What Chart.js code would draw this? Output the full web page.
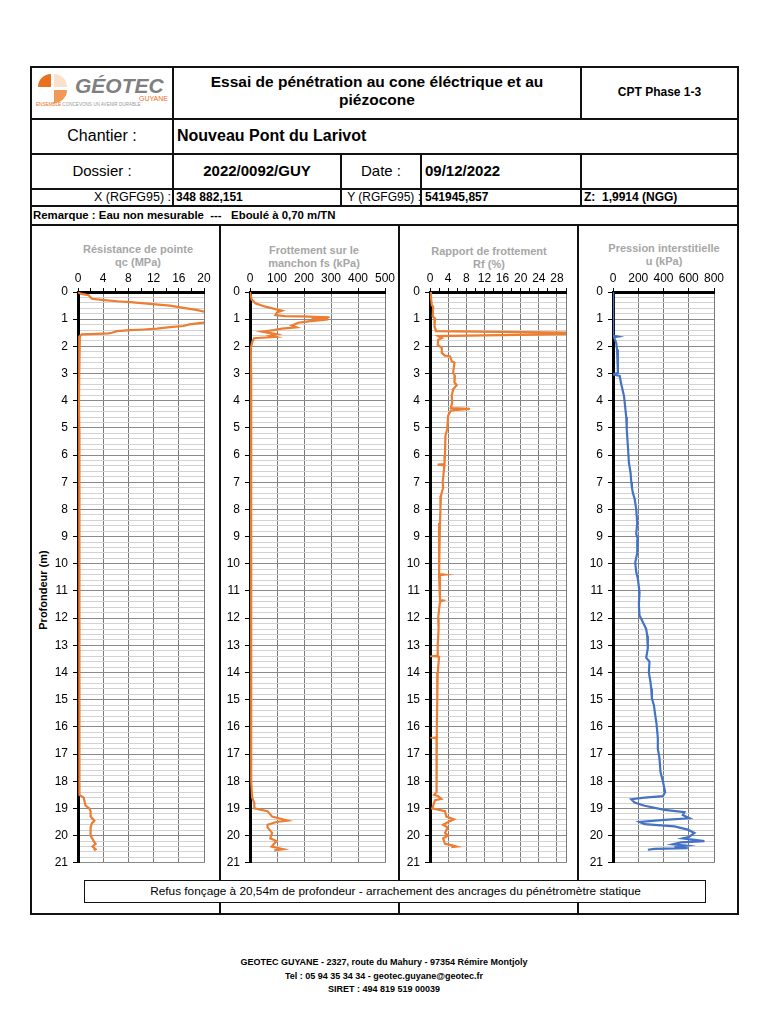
<!DOCTYPE html>
<html><head><meta charset="utf-8">
<script src="https://cdn.jsdelivr.net/npm/chart.js@4"></script>
<style>
body{margin:0;background:#fff;width:768px;height:1024px;position:relative;font-family:"Liberation Sans",Arial,sans-serif;overflow:hidden}
.h{position:absolute;height:2px;background:#111}
.v{position:absolute;width:2px;background:#111}
.t{position:absolute;white-space:nowrap;color:#000}
.c{text-align:center}
.ct{position:absolute;white-space:nowrap;text-align:center;color:#a6a6a6;font-weight:bold;font-size:11px;line-height:13px}
canvas{position:absolute}
</style></head><body>

<!-- frame lines -->
<div class="h" style="left:30px;top:66px;width:709px"></div>
<div class="h" style="left:30px;top:118px;width:709px"></div>
<div class="h" style="left:30px;top:153px;width:709px"></div>
<div class="h" style="left:30px;top:188px;width:709px"></div>
<div class="h" style="left:30px;top:205px;width:709px"></div>
<div class="h" style="left:30px;top:224px;width:709px"></div>
<div class="h" style="left:30px;top:913px;width:709px"></div>
<div class="v" style="left:30px;top:66px;height:849px"></div>
<div class="v" style="left:737px;top:66px;height:849px"></div>
<div class="v" style="left:172px;top:66px;height:140px"></div>
<div class="v" style="left:580px;top:66px;height:53px"></div>
<div class="v" style="left:580px;top:153px;height:53px"></div>
<div class="v" style="left:340px;top:153px;height:53px"></div>
<div class="v" style="left:420px;top:153px;height:53px"></div>
<div class="v" style="left:219px;top:224px;height:690px"></div>
<div class="v" style="left:398px;top:224px;height:690px"></div>
<div class="v" style="left:577px;top:224px;height:690px"></div>

<!-- logo -->
<svg style="position:absolute;left:36px;top:71px" width="134" height="36" viewBox="0 0 134 36">
  <path d="M15,3 A13,13 0 0 0 2,16 L15,16 Z" fill="#e8701e"/>
  <path d="M18,19 L31,19 A13,13 0 0 1 18,32 Z" fill="#f09a55"/>
  <path d="M18,3 A13,13 0 0 1 31,16 L18,16 Z" fill="#fbe1cc"/>
  <text x="39" y="22" font-family="Liberation Sans, Arial" font-weight="bold" font-style="italic" font-size="21" fill="#7f7f7f">GÉOTEC</text>
  <text x="132" y="30" text-anchor="end" font-family="Liberation Sans, Arial" font-size="7" fill="#e8701e">GUYANE</text>
  <text x="0" y="35" font-family="Liberation Sans, Arial" font-size="4.6" fill="#999"><tspan fill="#e8701e">ENSEMBLE</tspan> CONCEVONS UN AVENIR DURABLE</text>
</svg>

<!-- header texts -->
<div class="t c" style="left:174px;width:406px;top:73px;font-weight:bold;font-size:15.5px;line-height:18px">Essai de pénétration au cone éléctrique et au<br>piézocone</div>
<div class="t c" style="left:582px;width:155px;top:84px;font-weight:bold;font-size:12px;line-height:16px">CPT Phase 1-3</div>
<div class="t c" style="left:32px;width:140px;top:126px;font-size:16px;line-height:20px">Chantier :</div>
<div class="t" style="left:177px;top:126px;font-weight:bold;font-size:16px;line-height:20px">Nouveau Pont du Larivot</div>
<div class="t c" style="left:32px;width:140px;top:162px;font-size:15px;line-height:18px">Dossier :</div>
<div class="t c" style="left:174px;width:166px;top:162px;font-weight:bold;font-size:15px;line-height:18px">2022/0092/GUY</div>
<div class="t c" style="left:342px;width:78px;top:162px;font-size:15px;line-height:18px">Date :</div>
<div class="t" style="left:425px;top:162px;font-weight:bold;font-size:15px;line-height:18px">09/12/2022</div>
<div class="t" style="right:597px;top:190px;font-size:12.5px;line-height:15px">X (RGFG95) :</div>
<div class="t" style="left:176px;top:190px;font-size:12px;line-height:15px;font-weight:bold">348 882,151</div>
<div class="t" style="right:347px;top:190px;font-size:12px;line-height:15px">Y (RGFG95) :</div>
<div class="t" style="left:425px;top:190px;font-size:12px;line-height:15px;font-weight:bold">541945,857</div>
<div class="t" style="left:584px;top:190px;font-size:12px;line-height:15px;font-weight:bold">Z:&nbsp; 1,9914 (NGG)</div>
<div class="t" style="left:33px;top:207px;font-size:11.4px;line-height:16px;font-weight:bold">Remarque : Eau non mesurable &nbsp;--- &nbsp; Eboulé à 0,70 m/TN</div>

<!-- chart titles -->
<div class="ct" style="left:60px;width:156px;top:243px">Résistance de pointe<br>qc (MPa)</div>
<div class="ct" style="left:236px;width:156px;top:244px">Frottement sur le<br>manchon fs (kPa)</div>
<div class="ct" style="left:411px;width:156px;top:245px">Rapport de frottement<br>Rf (%)</div>
<div class="ct" style="left:586px;width:156px;top:242px">Pression interstitielle<br>u (kPa)</div>
<div class="t" style="left:-17px;top:583px;width:120px;text-align:center;font-weight:bold;font-size:11px;line-height:14px;transform:rotate(-90deg)">Profondeur (m)</div>

<canvas id="c1"></canvas>
<canvas id="c2"></canvas>
<canvas id="c3"></canvas>
<canvas id="c4"></canvas>

<!-- bottom note -->
<div style="position:absolute;left:84px;top:880px;width:620px;height:21px;border:1.5px solid #111;background:#fff;z-index:5"></div>
<div class="t c" style="left:84px;width:623px;top:884px;font-size:11.8px;line-height:15px;z-index:6">Refus fonçage à 20,54m de profondeur - arrachement des ancrages du pénétromètre statique</div>

<!-- footer -->
<div class="t c" style="left:184px;width:400px;top:956px;font-size:9px;line-height:13.5px;font-weight:bold">GEOTEC GUYANE - 2327, route du Mahury - 97354 Rémire Montjoly<br>Tel : 05 94 35 34 34 - geotec.guyane@geotec.fr<br>SIRET : 494 819 519 00039</div>

<script>
// ---- data: depth (m) and measured values ----
const qcDepth = [0,0.06,0.12,0.25,0.29,0.34,0.37,0.44,0.5,0.6,0.66,0.72,0.8,0.95,1.05,1.13,1.19,1.25,1.29,1.35,1.38,1.4,1.44,1.5,1.52,1.54,1.56,1.62,2.0,3,4,5,6,7,8,9,10,11,12,13,14,15,16,17,18,18.5,18.6,18.7,18.9,19.0,19.1,19.3,19.45,19.55,19.7,20.0,20.2,20.3,20.4,20.5,20.54];
const qcValues = [0,0.4,1.7,2.2,3.8,6.2,8.3,11.4,14.6,17.2,18.8,20,24,26,23,20,17.7,16.7,14.6,12.5,10.4,8.3,6.2,5.4,4.8,3.0,0.6,0.3,0.2,0.2,0.15,0.2,0.25,0.2,0.2,0.25,0.2,0.2,0.25,0.2,0.2,0.25,0.2,0.25,0.25,0.3,0.9,1.0,1.2,1.8,2.0,2.0,2.6,2.2,2.0,2.0,2.5,2.8,2.3,2.8,2.5];

const fsDepth = [0,0.27,0.42,0.54,0.63,0.69,0.75,0.85,0.89,0.9,0.93,0.99,1.01,1.08,1.13,1.23,1.3,1.35,1.4,1.46,1.56,1.61,1.65,1.7,1.82,2.06,3,4,5,6,7,8,9,10,11,12,13,14,15,16,17,18,18.6,18.8,19.0,19.1,19.3,19.45,19.5,19.6,19.7,19.9,20.1,20.2,20.4,20.5,20.54];
const fsValues = [0,6,21,57,94,118,100,94,130,191,295,228,289,216,179,155,173,118,88,45,100,76,94,15,9,3,4,4,5,4,4,5,4,4,5,4,4,5,4,4,5,5,8,16,16,65,82,139,98,65,65,82,75,98,80,123,90];

const rfDepth = [0,0.18,0.48,0.55,0.9,0.97,1.27,1.39,1.44,1.5,1.55,1.62,1.7,1.76,1.94,2.06,2.24,2.34,2.36,2.55,2.6,2.97,3.09,3.33,3.43,3.58,3.82,4.06,4.27,4.3,4.36,4.55,5.03,5.3,6.0,6.33,6.35,6.38,6.5,7.0,7.2,7.5,8.0,8.5,9.0,9.5,10.0,10.38,10.4,10.42,11.0,11.33,11.35,11.4,12.0,12.4,13.0,13.38,13.4,13.42,14,15,16,16.38,16.4,16.42,17,18,18.4,18.5,18.55,18.65,18.7,18.9,19.0,19.1,19.3,19.4,19.5,19.6,19.7,19.9,20.0,20.1,20.3,20.35,20.4,20.42];
const rfValues = [0,0.2,0.4,0.7,0.6,1.1,1.0,1.25,1.3,31,31,1.8,2.6,1.8,1.7,2.6,2.6,3.3,4.4,4.8,5.4,5.1,5.5,5.4,5.9,5.1,4.8,4.9,4.6,8.8,4.6,4.0,3.8,3.4,3.3,3.2,1.7,3.2,3.1,2.8,2.9,2.4,2.3,2.2,2.0,2.0,2.0,2.0,3.1,2.0,2.2,2.2,2.9,2.2,1.8,1.9,1.7,1.7,0.7,2.0,1.7,1.6,1.5,1.5,0.8,1.5,1.45,1.45,1.45,0.9,1.8,2.5,1.1,0.7,0.5,3.3,3.6,5.3,4.0,2.9,3.9,3.3,4.0,2.9,3.3,4.7,5.8,4.7];

const uDepth = [0,1.4,1.6,1.64,1.66,1.88,2.12,2.97,3.03,3.09,3.4,3.82,4.6,4.9,5.06,5.67,6.28,6.65,7.0,7.2,7.4,7.6,8.0,8.5,8.9,9.1,9.6,9.95,10.3,10.55,11.05,11.5,11.9,12.15,12.4,12.65,13.1,13.45,13.6,14.0,14.35,14.6,14.95,15.2,15.55,15.9,16.4,16.8,17.15,17.65,18.0,18.4,18.55,18.6,18.66,18.78,18.9,19.05,19.14,19.24,19.36,19.42,19.5,19.58,19.66,19.78,19.9,20.04,20.1,20.2,20.25,20.32,20.37,20.42,20.46,20.49,20.52];
const uValues = [0,0,2,40,8,26,32,39,0,53,66,87,105,110,108,118,126,139,145,150,158,171,184,192,184,197,192,176,184,197,210,205,210,237,263,271,276,263,289,284,297,303,308,324,334,345,355,355,368,376,395,413,395,250,145,171,250,408,566,553,605,408,211,250,487,592,645,605,553,724,539,474,579,487,592,329,276];

// axis tick labels
const depthMax = 21;
const qcTicks = {max:20, minor:2, major:4, lastLabel:20};
const fsTicks = {max:500, minor:100, major:100, lastLabel:500};
const rfTicks = {max:30, minor:2, major:4, lastLabel:28};
const uTicks  = {max:800, minor:200, major:200, lastLabel:800};

const ORANGE = '#ED7D31', BLUE = '#4472C4';

function isMult(v, m){ const r = v/m; return Math.abs(r - Math.round(r)) < 1e-6; }

function makeChart(id, box, plot, xc, depth, values, color){
  const cv = document.getElementById(id);
  cv.style.left = box.left+'px'; cv.style.top = box.top+'px';
  cv.width = box.width; cv.height = box.height;
  cv.style.width = box.width+'px'; cv.style.height = box.height+'px';
  const pts = depth.map((d,i)=>({x:values[i], y:d}));
  new Chart(cv, {
    type:'scatter',
    data:{datasets:[{data:pts, showLine:true, borderColor:color, borderWidth:2.2, pointRadius:0, pointHoverRadius:0, tension:0, fill:false}]},
    options:{
      responsive:false, animation:false, events:[],
      layout:{padding:{left:0, top:0, right:(box.left+box.width)-plot.right, bottom:(box.top+box.height)-plot.bottom}},
      plugins:{legend:{display:false}, tooltip:{enabled:false}, title:{display:false}},
      scales:{
        x:{type:'linear', position:'top', min:0, max:xc.max,
          ticks:{stepSize:xc.minor, autoSkip:false, maxRotation:0, minRotation:0, color:'#000', padding:2,
            font:{family:'Liberation Sans, Arial', size:12},
            callback:(v)=> (isMult(v,xc.major) && v<=xc.lastLabel) ? String(v) : ''},
          grid:{color:(c)=> (isMult(c.tick.value,xc.major) || c.tick.value===xc.max) ? '#7a7a7a' : 'rgba(0,0,0,0)',
                tickColor:'#000', tickLength:4, lineWidth:1},
          border:{color:'#000', width:3},
          afterFit:(s)=>{ s.height = plot.top - box.top; }
        },
        y:{type:'linear', position:'left', min:0, max:depthMax, reverse:true,
          ticks:{stepSize:0.2, autoSkip:false, color:'#000', padding:5,
            font:{family:'Liberation Sans, Arial', size:12},
            callback:(v)=> isMult(v,1) ? String(Math.round(v)) : ''},
          grid:{color:(c)=> isMult(c.tick.value,1) ? '#8a8a8a' : '#d2d2d2',
                tickColor:(c)=> isMult(c.tick.value,1) ? '#000' : 'rgba(0,0,0,0)', tickLength:5, lineWidth:1},
          border:{color:'#000', width:3},
          afterFit:(s)=>{ s.width = plot.left - box.left; }
        }
      }
    }
  });
}

makeChart('c1', {left:32, top:228, width:187, height:647}, {left:78, right:204, top:292, bottom:864}, qcTicks, qcDepth, qcValues, ORANGE);
makeChart('c2', {left:222, top:228, width:176, height:647}, {left:250, right:385, top:292, bottom:864}, fsTicks, fsDepth, fsValues, ORANGE);
makeChart('c3', {left:401, top:228, width:176, height:647}, {left:430, right:566, top:292, bottom:864}, rfTicks, rfDepth, rfValues, ORANGE);
makeChart('c4', {left:580, top:228, width:157, height:647}, {left:613, right:714, top:292, bottom:864}, uTicks, uDepth, uValues, BLUE);
</script>
</body></html>
